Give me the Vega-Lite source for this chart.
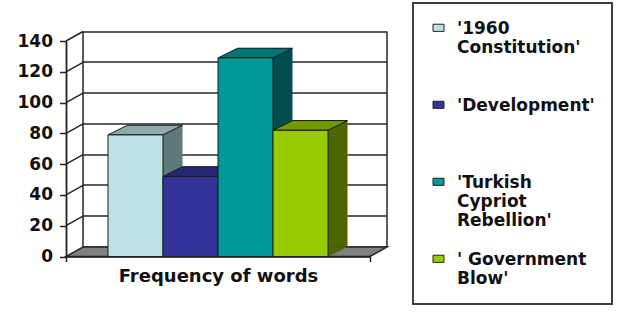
{
  "$schema": "https://vega.github.io/schema/vega-lite/v6.json",
  "width": 304,
  "height": 215.5,
  "autosize": {"type": "none"},
  "padding": {"left": 66, "top": 41, "right": 258, "bottom": 58.5},
  "background": "white",
  "config": {"view": {"stroke": null}, "font": "DejaVu Sans", "legend": {"strokeWidth": 2}},
  "data": {
    "values": [
      {"category": "Frequency of words", "series": "'1960 Constitution'", "value": 79},
      {"category": "Frequency of words", "series": "'Development'", "value": 52},
      {"category": "Frequency of words", "series": "'Turkish Cypriot Rebellion'", "value": 129},
      {"category": "Frequency of words", "series": "' Government Blow'", "value": 82}
    ]
  },
  "layer": [
    {
      "transform": [{"aggregate": [{"op": "count", "as": "n"}], "groupby": ["category"]}],
      "mark": {"type": "point", "shape": "M-152,0L152,0L169,-9.5L-135,-9.5Z M-135,-9.5L-135,-225 M169,-9.5L169,-225 M-152,-30.79L-135,-40.29 M-152,-61.57L-135,-71.07 M-152,-92.36L-135,-101.86 M-152,-123.14L-135,-132.64 M-152,-153.93L-135,-163.43 M-152,-184.71L-135,-194.21 M-152,-215.5L-135,-225", "size": 4, "filled": true, "fill": "#808080", "stroke": "#262626", "strokeWidth": 1.5, "opacity": 1},
      "encoding": {
        "x": {"field": "category", "type": "nominal", "scale": {"paddingInner": 0, "paddingOuter": 0}, "axis": null},
        "y": {"datum": 0, "type": "quantitative", "scale": {"domain": [0, 140]},
          "axis": {"orient": "left", "grid": true, "gridColor": "#262626", "gridWidth": 1.5, "values": [0, 20, 40, 60, 80, 100, 120, 140], "translate": 17, "tickOffset": -26.5, "labels": false, "ticks": false, "domain": false, "title": null}}
      }
    },
    {
      "mark": {"type": "bar", "yOffset": -9.7, "y2Offset": -9.7, "opacity": 1},
      "encoding": {
        "x": {"field": "category", "type": "nominal", "scale": {"paddingInner": 0, "paddingOuter": 0}, "axis": null},
        "xOffset": {"field": "series", "type": "nominal", "scale": {"type": "band", "domain": ["'1960 Constitution'", "'Development'", "'Turkish Cypriot Rebellion'", "' Government Blow'"], "paddingInner": 0, "paddingOuter": 0.7636, "align": 0.7321}},
        "y": {"field": "value", "type": "quantitative", "scale": {"domain": [0, 140]}, "axis": null},
        "fill": {"field": "series", "type": "nominal", "scale": {"domain": ["'1960 Constitution'", "'Development'", "'Turkish Cypriot Rebellion'", "' Government Blow'"], "range": ["#5F797A", "#1F1F5C", "#004D4D", "#4D6600"]}, "legend": null}
      }
    },
    {
      "mark": {"type": "point", "shape": "M27.5,-9.7L27.5,0L47,-9.7Z", "size": 4, "filled": true, "opacity": 1, "strokeWidth": 0},
      "encoding": {
        "x": {"field": "category", "type": "nominal", "scale": {"paddingInner": 0, "paddingOuter": 0}, "axis": null},
        "xOffset": {"field": "series", "type": "nominal", "scale": {"type": "band", "domain": ["'1960 Constitution'", "'Development'", "'Turkish Cypriot Rebellion'", "' Government Blow'"], "paddingInner": 0, "paddingOuter": 0.7636}},
        "y": {"datum": 0, "type": "quantitative", "scale": {"domain": [0, 140]}, "axis": null},
        "fill": {"field": "series", "type": "nominal", "scale": {"domain": ["'1960 Constitution'", "'Development'", "'Turkish Cypriot Rebellion'", "' Government Blow'"], "range": ["#5F797A", "#1F1F5C", "#004D4D", "#4D6600"]}, "legend": null}
      }
    },
    {
      "mark": {"type": "point", "shape": "M-27.5,0L27.5,0L47,-9.7L-8,-9.7Z", "size": 4, "filled": true, "opacity": 1, "stroke": "#1a1a1a", "strokeWidth": 1},
      "encoding": {
        "x": {"field": "category", "type": "nominal", "scale": {"paddingInner": 0, "paddingOuter": 0}, "axis": null},
        "xOffset": {"field": "series", "type": "nominal", "scale": {"type": "band", "domain": ["'1960 Constitution'", "'Development'", "'Turkish Cypriot Rebellion'", "' Government Blow'"], "paddingInner": 0, "paddingOuter": 0.7636}},
        "y": {"field": "value", "type": "quantitative", "scale": {"domain": [0, 140]}, "axis": null},
        "fill": {"field": "series", "type": "nominal", "scale": {"domain": ["'1960 Constitution'", "'Development'", "'Turkish Cypriot Rebellion'", "' Government Blow'"], "range": ["#8FAAAB", "#262673", "#007575", "#739900"]}, "legend": null}
      }
    },
    {
      "mark": {"type": "bar", "stroke": "#1a1a1a", "strokeWidth": 1, "opacity": 1},
      "encoding": {
        "x": {"field": "category", "type": "nominal", "scale": {"paddingInner": 0, "paddingOuter": 0},
          "axis": {"orient": "bottom", "grid": false, "tickBand": "extent", "tickSize": 5, "tickColor": "#222222", "tickWidth": 1.5, "domainColor": "#222222", "domainWidth": 1.5, "labelPadding": 5.5, "labelLimit": 400, "labelFont": "DejaVu Sans", "labelFontSize": 18, "labelFontWeight": "bold", "labelColor": "#111111", "labelAngle": 0, "title": null, "zindex": 1}},
        "xOffset": {"field": "series", "type": "nominal", "scale": {"type": "band", "domain": ["'1960 Constitution'", "'Development'", "'Turkish Cypriot Rebellion'", "' Government Blow'"], "paddingInner": 0, "paddingOuter": 0.7636}},
        "y": {"field": "value", "type": "quantitative", "scale": {"domain": [0, 140]},
          "axis": {"orient": "left", "grid": false, "values": [0, 20, 40, 60, 80, 100, 120, 140], "tickSize": 6.5, "tickColor": "#222222", "tickWidth": 1.5, "domainColor": "#222222", "domainWidth": 1.8, "labelPadding": 7, "labelFont": "DejaVu Sans", "labelFontSize": 17, "labelFontWeight": "bold", "labelColor": "#111111", "title": null, "zindex": 1}},
        "color": {"field": "series", "type": "nominal",
          "scale": {"domain": ["'1960 Constitution'", "'Development'", "'Turkish Cypriot Rebellion'", "' Government Blow'"], "range": ["#BDE1E5", "#333399", "#009999", "#99CC00"]},
          "legend": {
            "orient": "none", "legendX": 347, "legendY": -38, "padding": 17, "title": null,
            "strokeColor": "#404040", "fillColor": "white", "clipHeight": 2,
            "symbolType": "M-1,0.586L1,0.586L1,1.886L-1,1.886Z", "symbolSize": 121, "symbolStrokeColor": "#222222", "symbolStrokeWidth": 1, "symbolOffset": 0,
            "labelOffset": 10, "labelFont": "DejaVu Sans", "labelFontSize": 17, "labelFontWeight": "bold", "labelColor": "#111111", "labelLimit": 400, "labelBaseline": "top", "rowPadding": 22, "gridAlign": "all",
            "labelExpr": "datum.label == \"'1960 Constitution'\" ? [\"'1960\", \"Constitution'\"] : datum.label == \"'Turkish Cypriot Rebellion'\" ? [\"'Turkish\", \"Cypriot\", \"Rebellion'\"] : datum.label == \"' Government Blow'\" ? [\"' Government\", \"Blow'\"] : datum.label",
            "encode": {
              "entries": {"width": {"value": 185}}
            }
          }}
      }
    }
  ],
  "resolve": {"scale": {"fill": "independent", "xOffset": "independent"}, "axis": {"x": "independent", "y": "independent"}}
}
